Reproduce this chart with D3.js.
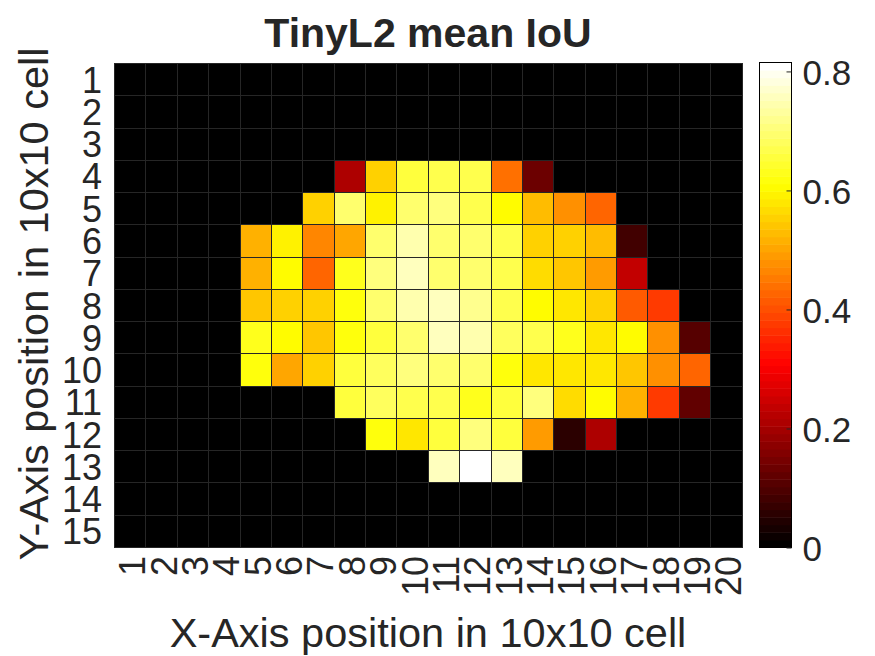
<!DOCTYPE html>
<html>
<head>
<meta charset="utf-8">
<script src="https://cdn.jsdelivr.net/npm/d3@7"></script>
<style>
  html, body { margin: 0; padding: 0; background: #fff; }
  svg { display: block; }
  text { font-family: "Liberation Sans", Arial, sans-serif; fill: #262626; }
</style>
</head>
<body>
<div id="chart"></div>
<script>
// Axis categories
const xLabels = d3.range(1, 21).map(String);
const yLabels = d3.range(1, 16).map(String);
const colorTicks = [0, 0.2, 0.4, 0.6, 0.8];
const maxIoU = 0.815;

// Mean IoU per grid cell, one list per row (0 = no data)
const row1 = [0,0,0,0,0,0,0,0,0,0,0,0,0,0,0,0,0,0,0,0];
const row2 = [0,0,0,0,0,0,0,0,0,0,0,0,0,0,0,0,0,0,0,0];
const row3 = [0,0,0,0,0,0,0,0,0,0,0,0,0,0,0,0,0,0,0,0];
const row4 = [0,0,0,0,0,0,0,.215,.55,.66,.67,.67,.44,.135,0,0,0,0,0,0];
const row5 = [0,0,0,0,0,0,.55,.69,.595,.70,.71,.67,.611,.53,.475,.43,0,0,0,0];
const row6 = [0,0,0,0,.517,.595,.459,.498,.70,.747,.70,.70,.665,.55,.55,.53,.083,0,0,0];
const row7 = [0,0,0,0,.52,.611,.43,.625,.71,.76,.70,.69,.665,.565,.535,.49,.24,0,0,0];
const row8 = [0,0,0,0,.535,.56,.55,.62,.70,.74,.755,.72,.665,.61,.575,.55,.415,.38,0,0];
const row9 = [0,0,0,0,.635,.60,.54,.62,.65,.70,.755,.74,.675,.665,.625,.58,.60,.48,.11,0];
const row10 = [0,0,0,0,.62,.505,.555,.65,.68,.71,.70,.69,.62,.585,.575,.58,.535,.48,.43,0];
const row11 = [0,0,0,0,0,0,0,.65,.675,.665,.665,.635,.65,.71,.565,.611,.515,.375,.125,0];
const row12 = [0,0,0,0,0,0,0,0,.615,.58,.65,.71,.65,.49,.06,.215,0,0,0,0];
const row13 = [0,0,0,0,0,0,0,0,0,0,.755,.815,.755,0,0,0,0,0,0,0];
const row14 = [0,0,0,0,0,0,0,0,0,0,0,0,0,0,0,0,0,0,0,0];
const row15 = [0,0,0,0,0,0,0,0,0,0,0,0,0,0,0,0,0,0,0,0];
const rows = [row1, row2, row3, row4, row5, row6, row7, row8, row9, row10, row11, row12, row13, row14, row15];

const width = 875, height = 656;
const plot = { left: 114, right: 741.5, top: 63, bottom: 547 };
const bar = { left: 759.5, right: 791.5, top: 62.5, bottom: 547.5 };

const svg = d3.select("#chart").append("svg")
  .attr("width", width)
  .attr("height", height);

const x = d3.scaleBand().domain(xLabels).range([plot.left, plot.right]);
const y = d3.scaleBand().domain(yLabels).range([plot.top, plot.bottom]);

// Hot colormap, 64 steps
const hot = d3.scaleLinear()
  .domain([0, maxIoU * 3 / 8, maxIoU * 6 / 8, maxIoU])
  .range(["#000000", "#ff0000", "#ffff00", "#ffffff"]);
const levels = d3.range(64).map((i) => hot((i / 63) * maxIoU));
const color = d3.scaleQuantize().domain([0, maxIoU]).range(levels);

// Flatten rows into cells
const cells = [];
rows.forEach((r, j) => r.forEach((v, i) => {
  cells.push({ col: xLabels[i], row: yLabels[j], value: v });
}));

svg.append("g")
  .selectAll("rect")
  .data(cells)
  .enter()
  .append("rect")
  .attr("x", (d) => Math.round(x(d.col)) + 0.5)
  .attr("y", (d) => Math.round(y(d.row)) + 0.5)
  .attr("width", (d) => Math.round(x(d.col) + x.bandwidth()) - Math.round(x(d.col)))
  .attr("height", (d) => Math.round(y(d.row) + y.bandwidth()) - Math.round(y(d.row)))
  .attr("fill", (d) => color(d.value))
  .attr("stroke", "#262626")
  .attr("stroke-width", 1)
  .attr("shape-rendering", "crispEdges");

// X axis, labels turned 90 degrees
const xAxis = svg.append("g")
  .attr("transform", `translate(0, ${plot.bottom})`)
  .call(d3.axisBottom(x).tickSize(0));
xAxis.select(".domain").remove();
xAxis.selectAll("text")
  .attr("font-size", 36)
  .attr("text-anchor", "end")
  .attr("dy", null)
  .attr("y", null)
  .attr("dominant-baseline", "central")
  .attr("transform", "translate(3, 9) rotate(-90)");

// Y axis
const yAxis = svg.append("g")
  .attr("transform", `translate(${plot.left}, 2)`)
  .call(d3.axisLeft(y).tickSize(0));
yAxis.select(".domain").remove();
yAxis.selectAll("text")
  .attr("font-size", 36)
  .attr("x", -12);

// Titles
svg.append("text")
  .attr("x", 428)
  .attr("y", 47)
  .attr("text-anchor", "middle")
  .attr("font-size", 41)
  .attr("font-weight", "bold")
  .text("TinyL2 mean IoU");

svg.append("text")
  .attr("x", 428)
  .attr("y", 647)
  .attr("text-anchor", "middle")
  .attr("font-size", 41.5)
  .text("X-Axis position in 10x10 cell");

svg.append("text")
  .attr("transform", "translate(48, 304) rotate(-90)")
  .attr("text-anchor", "middle")
  .attr("font-size", 41.5)
  .text("Y-Axis position in 10x10 cell");

// Colorbar
const barScale = d3.scaleLinear().domain([0, maxIoU]).range([bar.bottom, bar.top]);
const barStep = maxIoU / levels.length;

svg.append("g")
  .selectAll("rect")
  .data(levels)
  .enter()
  .append("rect")
  .attr("x", bar.left)
  .attr("y", (d, i) => barScale((i + 1) * barStep))
  .attr("width", bar.right - bar.left)
  .attr("height", barScale(0) - barScale(barStep) + 0.5)
  .attr("fill", (d) => d);

svg.append("rect")
  .attr("x", bar.left)
  .attr("y", bar.top)
  .attr("width", bar.right - bar.left)
  .attr("height", bar.bottom - bar.top)
  .attr("fill", "none")
  .attr("stroke", "#000")
  .attr("stroke-width", 1);

const barAxis = svg.append("g")
  .attr("transform", `translate(${bar.right}, 0)`)
  .call(d3.axisRight(barScale).tickValues(colorTicks).tickSize(-5).tickFormat((d) => (d === 0 ? "0" : d3.format(".1f")(d))));
barAxis.select(".domain").remove();
barAxis.selectAll("line").attr("stroke", "#262626");
barAxis.selectAll("text")
  .attr("font-size", 35)
  .attr("x", 11)
  .attr("dy", "0.36em");
</script>
</body>
</html>
